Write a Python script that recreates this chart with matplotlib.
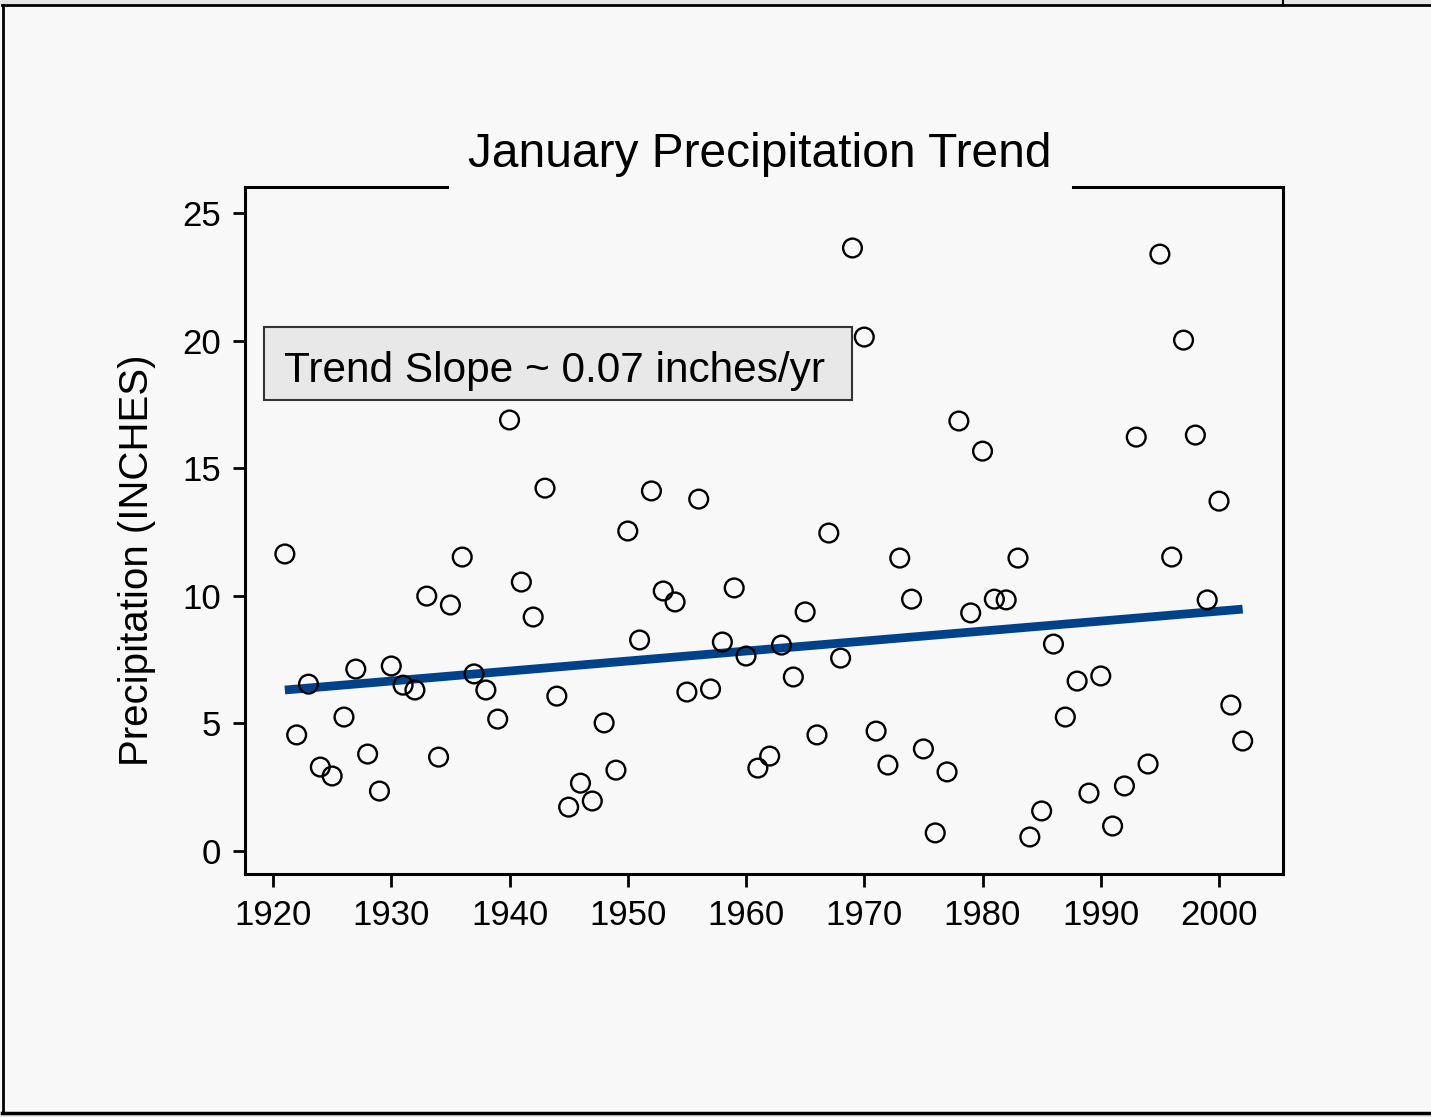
import matplotlib
matplotlib.use("Agg")
import matplotlib.pyplot as plt
from matplotlib.lines import Line2D
from matplotlib.patches import Rectangle

plt.rcParams['font.family'] = ['Liberation Sans', 'DejaVu Sans']

years = list(range(1921, 2003))
precip = [11.64, 4.55, 6.54, 3.29, 2.94, 5.25, 7.13, 3.80, 2.35, 7.25,
          6.50, 6.31, 9.99, 3.68, 9.64, 11.52, 6.94, 6.31, 5.17, 16.89,
          10.54, 9.17, 14.22, 6.07, 1.72, 2.66, 1.96, 5.02, 3.17, 12.54,
          8.27, 14.11, 10.19, 9.76, 6.23, 13.79, 6.35, 8.19, 10.31, 7.64,
          3.25, 3.72, 8.07, 6.82, 9.37, 4.55, 12.46, 7.56, 23.63, 20.14,
          4.70, 3.37, 11.48, 9.87, 4.00, 0.71, 3.10, 16.85, 9.33, 15.67,
          9.87, 9.84, 11.48, 0.55, 1.57, 8.11, 5.25, 6.66, 2.27, 6.86,
          0.98, 2.55, 16.22, 3.41, 23.39, 11.52, 20.02, 16.30, 9.84, 13.71,
          5.72, 4.31]
trend_years = [1921, 2002]
trend_values = [6.31, 9.48]
xticks = [1920, 1930, 1940, 1950, 1960, 1970, 1980, 1990, 2000]
yticks = [0, 5, 10, 15, 20, 25]

W, H = 1431, 1117
bg = '#f8f8f8'
fig = plt.figure(figsize=(W / 100, H / 100), dpi=100, facecolor=bg)

def fx(px):
    return px / W

def fy(py):
    return 1 - py / H

# outer gray margins + frame
fig.patches.append(Rectangle((0, fy(5)), 1, 1 - fy(5), transform=fig.transFigure,
                             facecolor='#e6e6e6', edgecolor='none', zorder=0))
fig.patches.append(Rectangle((0, 0), 1, fy(1114), transform=fig.transFigure,
                             facecolor='#e6e6e6', edgecolor='none', zorder=0))
fig.lines.append(Line2D([fx(2), 1], [fy(5), fy(5)], transform=fig.transFigure, color='black', lw=2))
fig.lines.append(Line2D([fx(2), 1], [fy(1113), fy(1113)], transform=fig.transFigure, color='black', lw=2.5))
fig.lines.append(Line2D([fx(3), fx(3)], [fy(5), fy(1113)], transform=fig.transFigure, color='black', lw=2))
fig.lines.append(Line2D([fx(1283), fx(1283)], [1, fy(5)], transform=fig.transFigure, color='black', lw=1.5))

AL, AR, AT, AB = 245, 1283, 187, 874
ax = fig.add_axes([fx(AL), fy(AB), fx(AR) - fx(AL), fy(AT) - fy(AB)])
ax.set_facecolor(bg)

ax.plot(trend_years, trend_values, color='#00428a', lw=6.3, solid_capstyle='butt', zorder=2)
ax.scatter(years, precip, s=13.5 ** 2, facecolors='none', edgecolors='black', linewidths=1.7, zorder=3)

ax.set_xlim(1917.63, 2005.41)
ax.set_ylim(-0.90, 26.02)
ax.set_xticks(xticks)
ax.set_yticks(yticks)
ax.tick_params(axis='both', direction='out', length=9, width=2, labelsize=25, pad=8)
ax.tick_params(axis='x', pad=9)

for s in ['left', 'right', 'bottom']:
    ax.spines[s].set_linewidth(2.2)
ax.spines['top'].set_visible(False)
x1 = (447 - AL) / (AR - AL)
x2 = (1073 - AL) / (AR - AL)
for a, b in [(0, x1), (x2, 1)]:
    ax.plot([a, b], [1, 1], transform=ax.transAxes, color='black', lw=2.2, clip_on=False,
            solid_capstyle='projecting')

fig.text(fx(760), fy(167), 'January Precipitation Trend',
         ha='center', va='baseline', fontsize=34.5)

ax.set_ylabel('Precipitation (INCHES)', fontsize=29)
ax.yaxis.set_label_coords(-(AL - 156) / (AR - AL), (AB - 560) / (AB - AT))
ax.yaxis.label.set_va('bottom')

# annotation box
fig.patches.append(Rectangle((fx(264), fy(400)), fx(852) - fx(264), fy(327) - fy(400),
                             transform=fig.transFigure, facecolor='#e8e8e8',
                             edgecolor='#333333', lw=1.5, zorder=5))
fig.text(fx(284), fy(382), 'Trend Slope ~ 0.07 inches/yr', ha='left', va='baseline',
         fontsize=30.5, zorder=6)

fig.savefig('out.png', dpi=100, facecolor=bg)
